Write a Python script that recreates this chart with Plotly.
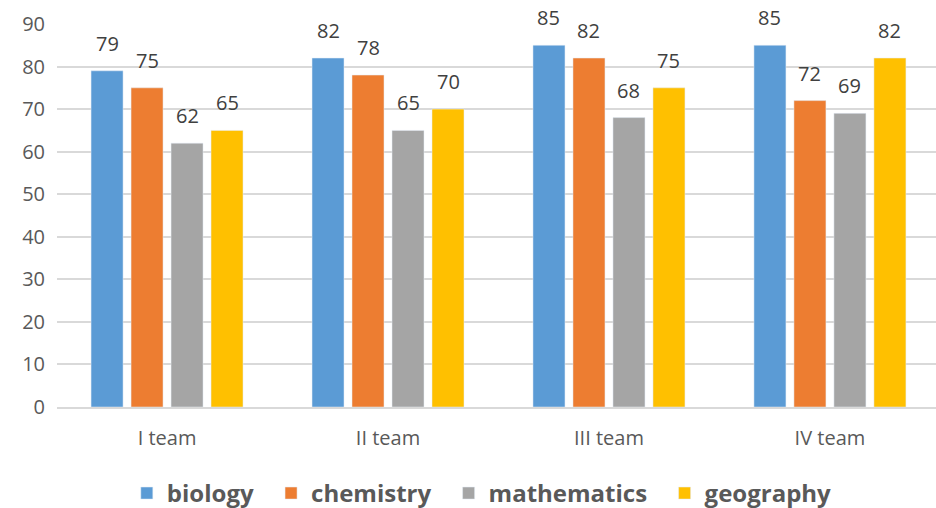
import plotly.graph_objects as go

categories = ["I team", "II team", "III team", "IV team"]
biology = [79, 82, 85, 85]
chemistry = [75, 78, 82, 72]
mathematics = [62, 65, 68, 69]
geography = [65, 70, 75, 82]

series = [
    ("biology", biology, "#5b9bd5"),
    ("chemistry", chemistry, "#ed7d31"),
    ("mathematics", mathematics, "#a5a5a5"),
    ("geography", geography, "#ffc000"),
]

fig = go.Figure()
annotations = []
n = len(series)
for i, (name, vals, color) in enumerate(series):
    pad = "\u00a0\u00a0" if i < n - 1 else ""
    fig.add_trace(go.Bar(
        name="<b>" + name + "</b>" + pad, x=categories, y=vals, marker_color=color,
    ))
    for c, v in zip(categories, vals):
        annotations.append(dict(
            x=c, y=v, xref="x", yref="y", text=str(v), showarrow=False,
            yanchor="bottom", xanchor="center", yshift=12, xshift=(i - (n - 1) / 2) * 40,
            font=dict(size=20, color="#404040", family="Open Sans"),
        ))

fig.update_layout(
    width=936, height=508,
    margin=dict(l=57, r=0, t=24, b=101, autoexpand=False),
    paper_bgcolor="white", plot_bgcolor="white",
    barmode="group", bargap=0.276, bargroupgap=0.2,
    font=dict(family="Open Sans", color="#595959"),
    showlegend=True,
    annotations=annotations,
    legend=dict(orientation="h", x=0.4833, xanchor="center", y=-0.167, yanchor="top",
                font=dict(size=24, color="#595959", family="Open Sans"),
                traceorder="normal"),
    xaxis=dict(showline=True, linecolor="#d9d9d9", linewidth=1.5, automargin=False,
               range=[-0.498, 3.48],
               tickfont=dict(size=20, color="#595959"), ticks="", ticklabelstandoff=12),
    yaxis=dict(range=[0, 90], dtick=10, showgrid=True, gridcolor="#d9d9d9",
               gridwidth=1.5, zeroline=False, automargin=False,
               tickfont=dict(size=20, color="#595959"),
               ticks="", ticklabelstandoff=11),
)
fig.write_html("out.html", config={"displayModeBar": False},
               post_script="document.body.style.margin='0';document.body.style.overflow='hidden';")
